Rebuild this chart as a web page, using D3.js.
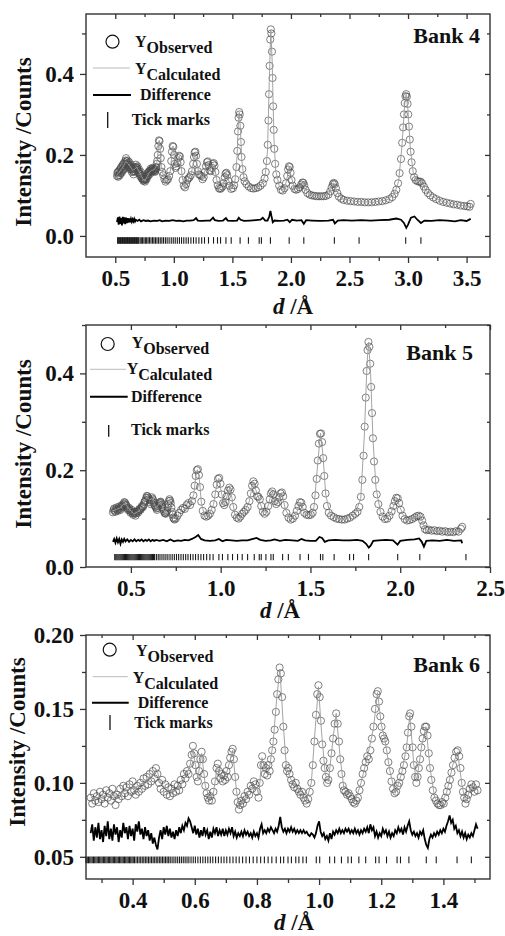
<!DOCTYPE html>
<html>
<head>
<meta charset="utf-8">
<script src="https://cdn.jsdelivr.net/npm/d3@7"></script>
<style>
body { margin: 0; background: #fff; }
svg text { font-family: "Liberation Serif", "Times New Roman", serif; font-weight: bold; fill: #111; }
</style>
</head>
<body>
<div id="chart"></div>
<script>
// ---------- Bank 4 ----------
var obs4 = [[0.515,0.148],[0.522,0.158],[0.529,0.150],[0.536,0.163],[0.543,0.155],[0.550,0.170],[0.557,0.160],[0.564,0.176],[0.571,0.165],[0.578,0.182],
[0.585,0.172],[0.592,0.192],[0.599,0.178],[0.606,0.186],[0.613,0.170],[0.620,0.182],[0.627,0.165],[0.634,0.176],[0.641,0.158],[0.648,0.170],
[0.655,0.152],[0.662,0.168],[0.669,0.160],[0.676,0.176],[0.683,0.165],[0.690,0.172],[0.697,0.156],[0.704,0.164],[0.711,0.148],[0.718,0.158],
[0.725,0.142],[0.732,0.150],[0.739,0.136],[0.746,0.142],[0.753,0.134],[0.760,0.145],[0.767,0.140],[0.774,0.155],[0.781,0.148],[0.788,0.160],
[0.795,0.153],[0.802,0.166],[0.809,0.158],[0.816,0.168],[0.823,0.160],[0.830,0.166],[0.837,0.158],[0.844,0.164],[0.851,0.170],[0.858,0.185],
[0.863,0.200],[0.868,0.222],[0.873,0.236],[0.878,0.234],[0.883,0.215],[0.888,0.192],[0.894,0.170],[0.900,0.158],[0.910,0.150],[0.920,0.140],
[0.930,0.134],[0.940,0.138],[0.950,0.140],[0.960,0.148],[0.970,0.160],[0.978,0.185],[0.984,0.208],[0.990,0.222],[0.996,0.220],[1.002,0.200],
[1.008,0.178],[1.015,0.168],[1.022,0.172],[1.030,0.180],[1.038,0.192],[1.045,0.198],[1.052,0.196],[1.058,0.182],[1.065,0.160],[1.075,0.138],
[1.085,0.124],[1.095,0.120],[1.105,0.128],[1.115,0.138],[1.125,0.142],[1.135,0.145],[1.145,0.150],[1.155,0.160],[1.165,0.178],[1.172,0.195],
[1.178,0.206],[1.184,0.208],[1.190,0.198],[1.197,0.178],[1.205,0.160],[1.215,0.152],[1.225,0.150],[1.235,0.148],[1.245,0.140],[1.255,0.145],
[1.265,0.158],[1.275,0.172],[1.283,0.182],[1.290,0.184],[1.297,0.175],[1.305,0.162],[1.315,0.160],[1.325,0.168],[1.333,0.178],[1.340,0.180],
[1.347,0.174],[1.355,0.158],[1.365,0.138],[1.375,0.125],[1.385,0.118],[1.395,0.116],[1.405,0.118],[1.415,0.122],[1.425,0.130],[1.435,0.145],
[1.442,0.154],[1.449,0.156],[1.456,0.150],[1.465,0.136],[1.475,0.124],[1.490,0.116],[1.505,0.118],[1.515,0.125],[1.525,0.140],[1.535,0.170],
[1.542,0.210],[1.548,0.258],[1.553,0.292],[1.558,0.306],[1.563,0.300],[1.568,0.272],[1.573,0.232],[1.578,0.195],[1.585,0.165],[1.595,0.145],
[1.605,0.135],[1.620,0.128],[1.640,0.122],[1.660,0.118],[1.680,0.117],[1.700,0.118],[1.720,0.120],[1.740,0.124],[1.760,0.130],[1.775,0.142],
[1.785,0.158],[1.795,0.185],[1.802,0.225],[1.808,0.285],[1.813,0.350],[1.818,0.420],[1.823,0.485],[1.828,0.510],[1.833,0.500],[1.838,0.455],
[1.843,0.390],[1.848,0.320],[1.853,0.262],[1.858,0.215],[1.865,0.178],[1.875,0.152],[1.885,0.138],[1.900,0.124],[1.915,0.114],[1.930,0.112],
[1.945,0.118],[1.958,0.130],[1.968,0.148],[1.976,0.164],[1.983,0.172],[1.990,0.170],[1.997,0.156],[2.005,0.138],[2.015,0.124],[2.030,0.116],
[2.045,0.114],[2.060,0.116],[2.075,0.120],[2.088,0.127],[2.098,0.132],[2.106,0.131],[2.114,0.125],[2.125,0.114],[2.140,0.106],[2.160,0.102],
[2.180,0.100],[2.200,0.099],[2.220,0.098],[2.240,0.098],[2.260,0.098],[2.280,0.098],[2.300,0.099],[2.320,0.102],[2.335,0.110],[2.348,0.120],
[2.358,0.128],[2.366,0.131],[2.374,0.128],[2.384,0.118],[2.396,0.106],[2.410,0.097],[2.430,0.092],[2.450,0.089],[2.480,0.087],[2.510,0.086],
[2.540,0.085],[2.570,0.084],[2.600,0.084],[2.630,0.083],[2.660,0.083],[2.690,0.083],[2.720,0.084],[2.750,0.085],[2.780,0.086],[2.810,0.088],
[2.840,0.091],[2.865,0.096],[2.885,0.104],[2.900,0.114],[2.915,0.130],[2.928,0.155],[2.940,0.190],[2.950,0.230],[2.958,0.268],[2.965,0.300],
[2.972,0.328],[2.978,0.345],[2.984,0.350],[2.990,0.344],[2.996,0.326],[3.002,0.300],[3.008,0.270],[3.015,0.238],[3.022,0.208],[3.030,0.182],
[3.040,0.160],[3.052,0.145],[3.065,0.138],[3.080,0.135],[3.095,0.134],[3.108,0.134],[3.120,0.130],[3.135,0.122],[3.150,0.114],[3.170,0.106],
[3.190,0.100],[3.215,0.095],[3.240,0.091],[3.270,0.087],[3.300,0.084],[3.330,0.082],[3.360,0.080],[3.390,0.078],[3.420,0.077],[3.450,0.075],
[3.480,0.074],[3.505,0.073],[3.525,0.072],[3.535,0.079],
[0.5185,0.156],[0.5255,0.146],[0.5325,0.160],[0.5395,0.150],[0.5465,0.166],[0.5535,0.156],[0.5605,0.172],[0.5675,0.162],[0.5745,0.178],[0.5815,0.168],
[0.5885,0.186],[0.5955,0.184],[0.6025,0.174],[0.6095,0.180],[0.6165,0.176],[0.6235,0.170],[0.6305,0.172],[0.6375,0.164],[0.6445,0.166],[0.6515,0.160],
[0.6585,0.158],[0.6655,0.164],[0.6725,0.170],[0.6795,0.170],[0.6865,0.168],[0.6935,0.162],[0.7005,0.158],[0.7075,0.154],[0.7145,0.152],[0.7215,0.148],
[0.7285,0.144],[0.7355,0.140],[0.7425,0.138],[0.7495,0.140],[0.7565,0.138],[0.7635,0.142],[0.7705,0.148],[0.7775,0.150],[0.7845,0.156],[0.7915,0.158],
[0.7985,0.160],[0.8055,0.162],[0.8125,0.164],[0.8195,0.166],[0.8265,0.162],[0.8335,0.162],[0.8405,0.160],[0.8475,0.168],[0.8545,0.178]];

var calc4 = [[0.515,0.152],[0.53,0.156],[0.55,0.164],[0.57,0.172],[0.59,0.184],[0.61,0.178],[0.63,0.170],[0.65,0.162],[0.67,0.166],[0.685,0.170],
[0.70,0.160],[0.72,0.150],[0.74,0.138],[0.755,0.136],[0.77,0.146],[0.79,0.156],[0.81,0.162],[0.83,0.163],[0.85,0.172],[0.862,0.198],
[0.870,0.228],[0.876,0.236],[0.884,0.212],[0.894,0.172],[0.91,0.150],[0.93,0.136],[0.95,0.140],[0.97,0.160],[0.985,0.208],[0.993,0.222],
[1.003,0.198],[1.015,0.170],[1.03,0.180],[1.045,0.197],[1.058,0.182],[1.075,0.140],[1.095,0.121],[1.12,0.138],[1.15,0.154],[1.17,0.188],
[1.182,0.207],[1.195,0.184],[1.215,0.153],[1.245,0.142],[1.275,0.170],[1.29,0.183],[1.31,0.161],[1.335,0.178],[1.345,0.176],[1.365,0.140],
[1.39,0.117],[1.42,0.126],[1.445,0.155],[1.46,0.145],[1.49,0.117],[1.52,0.130],[1.54,0.195],[1.552,0.288],[1.56,0.305],[1.57,0.255],
[1.58,0.188],[1.60,0.140],[1.65,0.120],[1.70,0.118],[1.75,0.127],[1.78,0.150],[1.80,0.210],[1.815,0.380],[1.828,0.508],[1.84,0.430],
[1.855,0.240],[1.87,0.162],[1.90,0.124],[1.93,0.113],[1.96,0.133],[1.985,0.171],[2.00,0.150],[2.03,0.117],[2.06,0.116],[2.09,0.128],
[2.105,0.131],[2.125,0.114],[2.16,0.102],[2.25,0.098],[2.32,0.102],[2.35,0.121],[2.367,0.131],[2.39,0.111],[2.43,0.092],[2.55,0.085],
[2.70,0.083],[2.82,0.089],[2.88,0.102],[2.92,0.135],[2.95,0.228],[2.97,0.322],[2.984,0.350],[3.00,0.310],[3.02,0.215],[3.045,0.155],
[3.08,0.136],[3.115,0.133],[3.15,0.114],[3.20,0.098],[3.30,0.084],[3.40,0.078],[3.535,0.072]];

var diff4 = [[0.515,0.034],[0.522,0.046],[0.529,0.028],[0.536,0.048],[0.543,0.030],[0.550,0.044],[0.557,0.026],[0.564,0.047],[0.571,0.031],[0.578,0.046],
[0.585,0.029],[0.592,0.045],[0.599,0.032],[0.606,0.044],[0.613,0.033],[0.620,0.043],[0.627,0.034],[0.634,0.042],[0.641,0.035],[0.648,0.041],
[0.655,0.036],[0.662,0.042],[0.669,0.036],[0.676,0.040],[0.690,0.037],[0.705,0.040],[0.72,0.036],[0.74,0.039],[0.76,0.037],[0.78,0.038],
[0.80,0.036],[0.83,0.038],[0.86,0.037],[0.88,0.039],[0.90,0.036],[0.93,0.038],[0.96,0.037],[0.99,0.039],[1.02,0.037],[1.05,0.038],
[1.08,0.036],[1.11,0.038],[1.14,0.038],[1.17,0.039],[1.19,0.044],[1.205,0.038],[1.24,0.037],[1.28,0.038],[1.31,0.038],[1.335,0.045],
[1.35,0.039],[1.38,0.037],[1.42,0.038],[1.445,0.044],[1.46,0.038],[1.50,0.037],[1.54,0.038],[1.555,0.045],[1.57,0.040],[1.60,0.037],
[1.65,0.038],[1.70,0.039],[1.74,0.040],[1.76,0.045],[1.78,0.038],[1.80,0.038],[1.815,0.048],[1.825,0.062],[1.833,0.050],[1.845,0.034],
[1.86,0.038],[1.90,0.037],[1.94,0.038],[1.97,0.040],[1.99,0.034],[2.01,0.040],[2.05,0.038],[2.09,0.039],[2.11,0.030],[2.13,0.039],
[2.18,0.038],[2.25,0.037],[2.32,0.038],[2.36,0.040],[2.375,0.031],[2.40,0.038],[2.45,0.039],[2.52,0.038],[2.60,0.039],[2.68,0.038],
[2.76,0.039],[2.84,0.040],[2.90,0.043],[2.94,0.040],[2.965,0.032],[2.985,0.020],[3.00,0.028],[3.025,0.045],[3.055,0.048],[3.08,0.040],
[3.11,0.032],[3.14,0.038],[3.20,0.037],[3.27,0.039],[3.34,0.038],[3.40,0.036],[3.45,0.039],[3.50,0.037],[3.535,0.042]];

var refl4 = [0.520,0.526,0.532,0.538,0.544,0.550,0.556,0.562,0.568,0.574,0.580,0.586,0.592,0.598,0.604,0.610,0.616,0.622,0.628,0.634,
0.640,0.646,0.652,0.658,0.664,0.670,0.676,0.682,0.688,0.694,0.700,0.712,0.722,0.733,0.745,0.757,0.768,0.780,0.792,0.805,
0.818,0.830,0.843,0.856,0.870,0.884,0.898,0.912,0.928,0.943,0.960,0.978,0.995,1.012,1.030,1.048,1.066,1.085,1.105,1.124,
1.146,1.168,1.190,1.214,1.238,1.262,1.296,1.339,1.373,1.399,1.445,1.490,1.566,1.637,1.729,1.748,1.825,1.985,2.110,2.371,
2.582,2.980,3.110];

// ---------- Bank 5 ----------
var obs5 = [[0.400,0.113],[0.407,0.121],[0.414,0.114],[0.421,0.123],[0.428,0.116],[0.435,0.125],[0.442,0.118],[0.449,0.128],[0.456,0.124],[0.463,0.134],
[0.470,0.130],[0.477,0.126],[0.484,0.118],[0.491,0.122],[0.498,0.112],[0.505,0.118],[0.512,0.108],[0.519,0.114],[0.526,0.106],[0.533,0.115],
[0.540,0.112],[0.547,0.120],[0.554,0.118],[0.561,0.126],[0.568,0.124],[0.575,0.134],[0.582,0.138],[0.589,0.147],[0.596,0.143],[0.603,0.138],
[0.610,0.130],[0.617,0.144],[0.624,0.138],[0.631,0.128],[0.638,0.124],[0.645,0.118],[0.652,0.126],[0.659,0.132],[0.666,0.135],[0.673,0.128],
[0.680,0.120],[0.687,0.112],[0.694,0.110],[0.701,0.116],[0.708,0.130],[0.715,0.140],[0.722,0.132],[0.729,0.114],[0.736,0.102],[0.743,0.098],
[0.750,0.100],[0.760,0.106],[0.770,0.112],[0.780,0.118],[0.790,0.122],[0.800,0.120],[0.810,0.128],[0.820,0.132],[0.830,0.128],[0.840,0.136],
[0.848,0.148],[0.855,0.168],[0.861,0.188],[0.867,0.200],[0.873,0.202],[0.879,0.190],[0.885,0.165],[0.892,0.135],[0.900,0.116],[0.910,0.106],
[0.920,0.104],[0.930,0.106],[0.940,0.110],[0.950,0.118],[0.960,0.130],[0.970,0.150],[0.978,0.170],[0.985,0.182],[0.992,0.184],[0.999,0.172],
[1.006,0.150],[1.013,0.132],[1.020,0.128],[1.027,0.134],[1.034,0.146],[1.041,0.158],[1.048,0.164],[1.055,0.160],[1.062,0.144],[1.070,0.124],
[1.080,0.108],[1.090,0.102],[1.100,0.100],[1.110,0.104],[1.120,0.110],[1.130,0.114],[1.140,0.118],[1.150,0.124],[1.160,0.136],[1.168,0.152],
[1.175,0.168],[1.182,0.177],[1.189,0.172],[1.196,0.158],[1.203,0.146],[1.210,0.145],[1.218,0.140],[1.226,0.126],[1.235,0.114],[1.245,0.110],
[1.255,0.114],[1.265,0.126],[1.273,0.140],[1.280,0.152],[1.287,0.156],[1.294,0.150],[1.302,0.136],[1.310,0.130],[1.318,0.134],[1.326,0.144],
[1.334,0.152],[1.341,0.154],[1.348,0.146],[1.356,0.128],[1.366,0.112],[1.378,0.102],[1.390,0.098],[1.402,0.100],[1.414,0.106],[1.424,0.116],
[1.433,0.126],[1.441,0.134],[1.449,0.133],[1.457,0.124],[1.466,0.112],[1.478,0.108],[1.490,0.107],[1.502,0.108],[1.512,0.112],[1.520,0.124],
[1.528,0.148],[1.535,0.182],[1.541,0.220],[1.547,0.255],[1.553,0.275],[1.559,0.276],[1.565,0.258],[1.571,0.225],[1.577,0.188],[1.584,0.152],
[1.592,0.126],[1.602,0.112],[1.615,0.106],[1.630,0.103],[1.645,0.100],[1.660,0.099],[1.675,0.098],[1.690,0.098],[1.705,0.100],[1.720,0.102],
[1.735,0.106],[1.750,0.110],[1.762,0.114],[1.772,0.124],[1.781,0.145],[1.789,0.180],[1.796,0.230],[1.802,0.290],[1.808,0.350],[1.813,0.405],
[1.818,0.448],[1.823,0.465],[1.828,0.455],[1.833,0.420],[1.838,0.372],[1.843,0.318],[1.848,0.266],[1.854,0.218],[1.861,0.180],[1.869,0.150],
[1.878,0.130],[1.890,0.114],[1.902,0.104],[1.915,0.099],[1.928,0.100],[1.940,0.106],[1.952,0.115],[1.962,0.126],[1.970,0.136],[1.978,0.143],
[1.986,0.142],[1.994,0.132],[2.003,0.118],[2.013,0.106],[2.025,0.099],[2.038,0.096],[2.052,0.097],[2.066,0.099],[2.080,0.102],[2.092,0.105],
[2.103,0.106],[2.113,0.104],[2.122,0.096],[2.130,0.086],[2.138,0.078],[2.148,0.076],[2.160,0.077],[2.175,0.075],[2.190,0.076],[2.205,0.074],
[2.220,0.075],[2.235,0.073],[2.250,0.074],[2.265,0.072],[2.280,0.073],[2.295,0.072],[2.310,0.074],[2.325,0.073],[2.338,0.079],[2.345,0.083],
[0.4035,0.118],[0.4105,0.116],[0.4175,0.120],[0.4245,0.118],[0.4315,0.121],[0.4385,0.120],[0.4455,0.124],[0.4525,0.126],[0.4595,0.130],[0.4665,0.133],
[0.4735,0.128],[0.4805,0.121],[0.4875,0.120],[0.4945,0.116],[0.5015,0.115],[0.5085,0.112],[0.5155,0.111],[0.5225,0.110],[0.5295,0.111],[0.5365,0.114],
[0.5435,0.116],[0.5505,0.119],[0.5575,0.122],[0.5645,0.125],[0.5715,0.129],[0.5785,0.136],[0.5855,0.143],[0.5925,0.146],[0.5995,0.140],[0.6065,0.134],
[0.6135,0.137],[0.6205,0.141],[0.6275,0.133],[0.6345,0.126],[0.6415,0.121],[0.6485,0.122],[0.6555,0.129],[0.6625,0.134],[0.6695,0.132],[0.6765,0.124],
[0.6835,0.116],[0.6905,0.111],[0.6975,0.113],[0.7045,0.123],[0.7115,0.136],[0.7185,0.137],[0.7255,0.123],[0.7325,0.108],[0.7395,0.100]];

var calc5 = [[0.40,0.116],[0.42,0.119],[0.44,0.122],[0.465,0.132],[0.49,0.120],[0.515,0.110],[0.54,0.114],[0.565,0.124],[0.59,0.145],[0.605,0.138],
[0.617,0.142],[0.64,0.122],[0.665,0.134],[0.69,0.111],[0.715,0.139],[0.74,0.099],[0.77,0.111],[0.80,0.121],[0.83,0.129],[0.85,0.150],
[0.862,0.188],[0.87,0.201],[0.88,0.188],[0.892,0.134],[0.91,0.106],[0.93,0.105],[0.96,0.129],[0.978,0.170],[0.99,0.183],[1.005,0.152],
[1.02,0.128],[1.035,0.146],[1.05,0.163],[1.062,0.144],[1.08,0.108],[1.10,0.100],[1.13,0.113],[1.16,0.136],[1.18,0.176],[1.195,0.160],
[1.21,0.145],[1.235,0.114],[1.255,0.114],[1.275,0.142],[1.288,0.155],[1.31,0.130],[1.34,0.153],[1.36,0.120],[1.39,0.098],[1.42,0.110],
[1.445,0.134],[1.47,0.110],[1.50,0.107],[1.52,0.124],[1.54,0.212],[1.556,0.276],[1.57,0.230],[1.585,0.150],[1.61,0.107],[1.68,0.098],
[1.75,0.110],[1.78,0.142],[1.80,0.270],[1.815,0.420],[1.824,0.464],[1.835,0.400],[1.848,0.266],[1.865,0.164],[1.89,0.114],[1.92,0.099],
[1.95,0.113],[1.98,0.143],[2.00,0.122],[2.03,0.097],[2.07,0.100],[2.105,0.106],[2.125,0.093],[2.14,0.077],[2.20,0.075],[2.28,0.073],
[2.345,0.075]];

var diff5 = [[0.40,0.052],[0.407,0.058],[0.414,0.050],[0.421,0.059],[0.428,0.051],[0.435,0.058],[0.442,0.048],[0.449,0.057],[0.456,0.052],[0.463,0.058],
[0.47,0.053],[0.48,0.057],[0.49,0.052],[0.50,0.056],[0.51,0.053],[0.52,0.057],[0.53,0.053],[0.54,0.056],[0.55,0.054],[0.56,0.057],
[0.57,0.053],[0.58,0.056],[0.59,0.054],[0.60,0.057],[0.61,0.053],[0.62,0.056],[0.63,0.054],[0.64,0.056],[0.66,0.054],[0.68,0.056],
[0.70,0.053],[0.72,0.057],[0.74,0.053],[0.76,0.055],[0.78,0.054],[0.80,0.056],[0.82,0.055],[0.84,0.058],[0.86,0.062],[0.875,0.066],
[0.89,0.058],[0.91,0.055],[0.94,0.054],[0.97,0.055],[0.99,0.058],[1.01,0.053],[1.03,0.056],[1.06,0.055],[1.09,0.054],[1.12,0.055],
[1.15,0.055],[1.18,0.058],[1.20,0.060],[1.22,0.056],[1.25,0.054],[1.28,0.055],[1.30,0.057],[1.33,0.054],[1.36,0.056],[1.40,0.055],
[1.43,0.054],[1.45,0.058],[1.47,0.055],[1.50,0.054],[1.53,0.054],[1.55,0.062],[1.565,0.060],[1.58,0.052],[1.60,0.055],[1.64,0.056],
[1.68,0.055],[1.72,0.055],[1.76,0.056],[1.79,0.054],[1.81,0.048],[1.825,0.040],[1.835,0.044],[1.85,0.054],[1.88,0.055],[1.92,0.056],
[1.96,0.055],[1.985,0.046],[2.00,0.054],[2.04,0.056],[2.08,0.057],[2.105,0.059],[2.12,0.052],[2.132,0.042],[2.145,0.054],[2.18,0.055],
[2.22,0.054],[2.26,0.056],[2.30,0.054],[2.34,0.055],[2.345,0.049]];

var refl5 = [0.410,0.416,0.422,0.428,0.434,0.440,0.446,0.452,0.458,0.464,0.470,0.476,0.482,0.488,0.494,0.500,0.506,0.512,0.518,0.524,
0.530,0.536,0.542,0.548,0.554,0.560,0.566,0.572,0.578,0.584,0.590,0.596,0.602,0.608,0.614,0.620,0.626,0.632,0.642,0.652,
0.662,0.673,0.684,0.695,0.706,0.718,0.730,0.742,0.754,0.766,0.779,0.792,0.805,0.818,0.832,0.846,0.860,0.875,0.890,0.905,
0.922,0.940,0.958,0.990,1.010,1.040,1.066,1.094,1.120,1.150,1.187,1.215,1.226,1.252,1.280,1.293,1.345,1.377,1.442,1.489,
1.556,1.569,1.632,1.718,1.740,1.824,1.986,2.109,2.366];

// ---------- Bank 6 ----------
var obs6 = [[0.265,0.090],[0.270,0.086],[0.275,0.093],[0.280,0.088],[0.285,0.091],[0.290,0.087],[0.295,0.094],[0.300,0.089],[0.305,0.092],[0.310,0.086],
[0.315,0.095],[0.320,0.090],[0.325,0.093],[0.330,0.088],[0.335,0.096],[0.340,0.091],[0.345,0.085],[0.350,0.092],[0.355,0.089],[0.360,0.096],
[0.365,0.091],[0.370,0.098],[0.375,0.093],[0.380,0.097],[0.385,0.091],[0.390,0.099],[0.395,0.094],[0.400,0.101],[0.405,0.095],[0.410,0.092],
[0.415,0.098],[0.420,0.094],[0.425,0.100],[0.430,0.096],[0.435,0.103],[0.440,0.098],[0.445,0.104],[0.450,0.099],[0.455,0.106],[0.460,0.101],
[0.465,0.108],[0.470,0.103],[0.475,0.110],[0.480,0.106],[0.485,0.100],[0.490,0.096],[0.495,0.102],[0.500,0.094],[0.505,0.099],[0.510,0.092],
[0.515,0.097],[0.520,0.091],[0.525,0.096],[0.530,0.093],[0.535,0.099],[0.540,0.094],[0.545,0.098],[0.550,0.095],[0.555,0.102],[0.560,0.099],
[0.565,0.106],[0.570,0.103],[0.575,0.108],[0.580,0.106],[0.585,0.113],[0.590,0.119],[0.594,0.125],[0.598,0.120],[0.602,0.112],[0.606,0.104],
[0.610,0.101],[0.614,0.108],[0.618,0.116],[0.622,0.121],[0.626,0.116],[0.630,0.106],[0.634,0.098],[0.638,0.093],[0.642,0.090],[0.646,0.088],
[0.650,0.091],[0.655,0.088],[0.660,0.094],[0.665,0.101],[0.670,0.110],[0.674,0.113],[0.678,0.108],[0.682,0.103],[0.686,0.106],[0.690,0.101],
[0.694,0.105],[0.698,0.102],[0.702,0.108],[0.706,0.104],[0.710,0.112],[0.714,0.117],[0.718,0.121],[0.722,0.123],[0.726,0.116],[0.730,0.104],
[0.734,0.094],[0.738,0.087],[0.742,0.082],[0.746,0.085],[0.750,0.088],[0.755,0.086],[0.760,0.091],[0.765,0.089],[0.770,0.094],[0.775,0.092],
[0.780,0.098],[0.785,0.096],[0.790,0.101],[0.795,0.099],[0.800,0.094],[0.805,0.090],[0.809,0.100],[0.813,0.112],[0.817,0.118],[0.821,0.112],
[0.825,0.106],[0.829,0.110],[0.833,0.105],[0.837,0.112],[0.841,0.108],[0.845,0.116],[0.849,0.122],[0.853,0.128],[0.857,0.136],[0.861,0.148],
[0.865,0.160],[0.869,0.170],[0.873,0.178],[0.877,0.174],[0.881,0.158],[0.885,0.138],[0.889,0.122],[0.893,0.112],[0.897,0.108],[0.901,0.110],
[0.905,0.106],[0.910,0.102],[0.915,0.099],[0.920,0.097],[0.925,0.100],[0.930,0.096],[0.935,0.094],[0.940,0.092],[0.945,0.094],[0.950,0.090],
[0.955,0.088],[0.960,0.086],[0.965,0.089],[0.970,0.094],[0.975,0.100],[0.980,0.112],[0.985,0.128],[0.990,0.146],[0.994,0.160],[0.998,0.166],
[1.002,0.158],[1.006,0.142],[1.010,0.126],[1.014,0.115],[1.018,0.110],[1.022,0.104],[1.026,0.100],[1.030,0.102],[1.035,0.110],[1.040,0.120],
[1.045,0.130],[1.050,0.140],[1.055,0.147],[1.060,0.140],[1.064,0.128],[1.068,0.116],[1.072,0.106],[1.076,0.098],[1.080,0.095],[1.085,0.094],
[1.090,0.092],[1.095,0.093],[1.100,0.091],[1.105,0.089],[1.110,0.087],[1.115,0.086],[1.120,0.088],[1.125,0.090],[1.130,0.095],[1.135,0.100],
[1.140,0.106],[1.145,0.110],[1.150,0.114],[1.155,0.118],[1.160,0.116],[1.165,0.122],[1.170,0.130],[1.175,0.138],[1.180,0.150],[1.185,0.160],
[1.189,0.162],[1.193,0.155],[1.197,0.145],[1.201,0.138],[1.205,0.132],[1.209,0.130],[1.213,0.128],[1.218,0.122],[1.223,0.114],[1.228,0.108],
[1.233,0.101],[1.238,0.096],[1.243,0.093],[1.248,0.094],[1.253,0.098],[1.258,0.100],[1.263,0.104],[1.268,0.108],[1.273,0.112],[1.278,0.118],
[1.282,0.124],[1.286,0.134],[1.290,0.145],[1.293,0.147],[1.297,0.138],[1.301,0.124],[1.305,0.112],[1.309,0.104],[1.313,0.100],[1.317,0.104],
[1.321,0.110],[1.325,0.116],[1.329,0.124],[1.333,0.130],[1.337,0.135],[1.341,0.138],[1.345,0.138],[1.349,0.132],[1.353,0.120],[1.357,0.110],
[1.361,0.102],[1.366,0.095],[1.371,0.090],[1.376,0.088],[1.381,0.086],[1.386,0.085],[1.391,0.085],[1.396,0.087],[1.401,0.086],[1.406,0.090],
[1.411,0.094],[1.416,0.098],[1.421,0.102],[1.426,0.107],[1.431,0.112],[1.436,0.117],[1.441,0.121],[1.446,0.122],[1.451,0.118],[1.455,0.110],
[1.459,0.100],[1.463,0.094],[1.467,0.090],[1.471,0.086],[1.475,0.089],[1.480,0.092],[1.485,0.096],[1.490,0.099],[1.495,0.097],[1.500,0.094],
[1.505,0.099],[1.510,0.095]];

var calc6 = [[0.265,0.090],[0.29,0.090],[0.32,0.091],[0.35,0.092],[0.38,0.095],[0.41,0.097],[0.44,0.101],[0.465,0.105],[0.478,0.109],[0.49,0.100],
[0.51,0.095],[0.53,0.094],[0.55,0.097],[0.57,0.104],[0.585,0.112],[0.594,0.123],[0.602,0.112],[0.61,0.103],[0.622,0.120],[0.634,0.098],
[0.648,0.089],[0.66,0.093],[0.672,0.111],[0.685,0.104],[0.70,0.105],[0.712,0.114],[0.722,0.122],[0.734,0.095],[0.743,0.083],[0.76,0.089],
[0.78,0.097],[0.80,0.096],[0.806,0.092],[0.816,0.117],[0.828,0.108],[0.84,0.110],[0.852,0.127],[0.864,0.158],[0.874,0.177],[0.884,0.142],
[0.895,0.110],[0.91,0.102],[0.93,0.096],[0.958,0.087],[0.975,0.100],[0.988,0.138],[0.998,0.165],[1.008,0.134],[1.02,0.106],[1.03,0.101],
[1.045,0.130],[1.055,0.147],[1.068,0.117],[1.08,0.096],[1.10,0.091],[1.115,0.087],[1.135,0.100],[1.155,0.117],[1.175,0.137],[1.188,0.161],
[1.20,0.140],[1.212,0.129],[1.228,0.108],[1.245,0.093],[1.265,0.106],[1.282,0.125],[1.292,0.146],[1.305,0.112],[1.314,0.101],[1.33,0.125],
[1.344,0.138],[1.357,0.110],[1.372,0.090],[1.39,0.085],[1.41,0.093],[1.43,0.112],[1.446,0.121],[1.46,0.098],[1.472,0.087],[1.49,0.098],
[1.51,0.096]];

var diff6 = [[0.265,0.066],[0.270,0.072],[0.275,0.061],[0.280,0.070],[0.285,0.063],[0.290,0.073],[0.295,0.062],[0.300,0.068],[0.305,0.060],[0.310,0.071],
[0.315,0.064],[0.320,0.074],[0.325,0.062],[0.330,0.069],[0.335,0.061],[0.340,0.072],[0.345,0.065],[0.350,0.070],[0.355,0.060],[0.360,0.068],
[0.365,0.063],[0.370,0.073],[0.375,0.066],[0.380,0.070],[0.385,0.062],[0.390,0.071],[0.395,0.064],[0.400,0.069],[0.405,0.061],[0.410,0.072],
[0.415,0.067],[0.420,0.074],[0.425,0.065],[0.430,0.069],[0.435,0.062],[0.440,0.070],[0.445,0.064],[0.450,0.068],[0.455,0.061],[0.460,0.066],
[0.465,0.059],[0.470,0.063],[0.475,0.058],[0.480,0.055],[0.485,0.063],[0.490,0.068],[0.495,0.062],[0.500,0.070],[0.505,0.065],[0.510,0.071],
[0.515,0.064],[0.520,0.069],[0.525,0.063],[0.530,0.067],[0.535,0.062],[0.540,0.068],[0.545,0.064],[0.550,0.070],[0.555,0.066],[0.560,0.071],
[0.565,0.068],[0.570,0.073],[0.575,0.071],[0.580,0.076],[0.585,0.074],[0.590,0.070],[0.595,0.066],[0.600,0.071],[0.605,0.065],[0.610,0.069],
[0.615,0.063],[0.620,0.068],[0.625,0.064],[0.630,0.070],[0.635,0.065],[0.640,0.068],[0.645,0.062],[0.650,0.067],[0.655,0.063],[0.660,0.069],
[0.665,0.066],[0.670,0.070],[0.675,0.064],[0.680,0.068],[0.685,0.065],[0.690,0.069],[0.695,0.064],[0.700,0.068],[0.705,0.065],[0.710,0.069],
[0.715,0.066],[0.720,0.070],[0.725,0.064],[0.730,0.067],[0.735,0.063],[0.740,0.066],[0.745,0.064],[0.750,0.067],[0.755,0.064],[0.760,0.068],
[0.765,0.065],[0.770,0.067],[0.775,0.064],[0.780,0.066],[0.785,0.063],[0.790,0.067],[0.795,0.064],[0.800,0.066],[0.805,0.063],[0.810,0.069],
[0.815,0.072],[0.820,0.066],[0.825,0.068],[0.830,0.066],[0.835,0.069],[0.840,0.067],[0.845,0.070],[0.850,0.068],[0.855,0.066],[0.860,0.069],
[0.865,0.067],[0.870,0.071],[0.875,0.077],[0.880,0.070],[0.885,0.067],[0.890,0.069],[0.895,0.066],[0.900,0.069],[0.905,0.067],[0.910,0.070],
[0.915,0.067],[0.920,0.069],[0.925,0.066],[0.930,0.068],[0.935,0.066],[0.940,0.068],[0.945,0.066],[0.950,0.068],[0.955,0.066],[0.960,0.067],
[0.965,0.065],[0.970,0.064],[0.975,0.066],[0.980,0.065],[0.985,0.063],[0.990,0.066],[0.995,0.071],[1.000,0.074],[1.005,0.067],[1.010,0.064],
[1.015,0.066],[1.020,0.062],[1.025,0.064],[1.030,0.061],[1.035,0.066],[1.040,0.062],[1.045,0.067],[1.050,0.065],[1.055,0.068],[1.060,0.066],
[1.065,0.069],[1.070,0.066],[1.075,0.068],[1.080,0.066],[1.085,0.069],[1.090,0.067],[1.095,0.069],[1.100,0.066],[1.105,0.068],[1.110,0.066],
[1.115,0.069],[1.120,0.066],[1.125,0.068],[1.130,0.065],[1.135,0.068],[1.140,0.066],[1.145,0.069],[1.150,0.067],[1.155,0.070],[1.160,0.066],
[1.165,0.072],[1.170,0.068],[1.175,0.070],[1.180,0.064],[1.185,0.067],[1.190,0.063],[1.195,0.066],[1.200,0.064],[1.205,0.069],[1.210,0.066],
[1.215,0.068],[1.220,0.064],[1.225,0.067],[1.230,0.063],[1.235,0.066],[1.240,0.064],[1.245,0.068],[1.250,0.066],[1.255,0.070],[1.260,0.067],
[1.265,0.069],[1.270,0.065],[1.275,0.070],[1.280,0.067],[1.285,0.071],[1.290,0.074],[1.295,0.068],[1.300,0.065],[1.305,0.067],[1.310,0.064],
[1.315,0.066],[1.320,0.063],[1.325,0.067],[1.330,0.065],[1.335,0.068],[1.340,0.062],[1.345,0.058],[1.350,0.056],[1.355,0.062],[1.360,0.065],
[1.365,0.063],[1.370,0.066],[1.375,0.064],[1.380,0.067],[1.385,0.065],[1.390,0.068],[1.395,0.066],[1.400,0.069],[1.405,0.067],[1.410,0.071],
[1.415,0.074],[1.420,0.078],[1.425,0.073],[1.430,0.075],[1.435,0.069],[1.440,0.071],[1.445,0.066],[1.450,0.068],[1.455,0.064],[1.460,0.067],
[1.465,0.063],[1.470,0.066],[1.475,0.062],[1.480,0.065],[1.485,0.063],[1.490,0.066],[1.495,0.064],[1.500,0.068],[1.505,0.072],[1.510,0.069]];

var refl6 = [0.250,0.254,0.258,0.262,0.266,0.270,0.274,0.278,0.282,0.286,0.290,0.294,0.298,0.302,0.306,0.310,0.314,0.318,0.322,0.326,
0.330,0.334,0.338,0.342,0.346,0.350,0.354,0.358,0.362,0.366,0.370,0.374,0.378,0.382,0.386,0.390,0.394,0.398,0.402,0.406,
0.411,0.416,0.421,0.426,0.431,0.436,0.441,0.446,0.451,0.456,0.461,0.466,0.471,0.476,0.481,0.486,0.491,0.496,0.501,0.506,
0.511,0.516,0.521,0.527,0.533,0.539,0.545,0.551,0.557,0.563,0.569,0.575,0.581,0.588,0.595,0.602,0.610,0.618,0.626,0.634,
0.642,0.650,0.658,0.667,0.676,0.685,0.694,0.703,0.713,0.723,0.733,0.743,0.754,0.765,0.776,0.788,0.800,0.812,0.824,0.836,
0.848,0.862,0.876,0.886,0.900,0.911,0.925,0.935,0.948,0.959,0.991,1.002,1.034,1.050,1.072,1.093,1.104,1.128,1.150,1.182,
1.193,1.217,1.251,1.262,1.289,1.345,1.377,1.444,1.490];

// axis ticks
var xMajor4 = [0.5, 1.0, 1.5, 2.0, 2.5, 3.0, 3.5], xMinor4 = [0.75, 1.25, 1.75, 2.25, 2.75, 3.25];
var yMajor4 = [0.0, 0.2, 0.4], yMinor4 = [0.1, 0.3, 0.5];
var xMajor5 = [0.5, 1.0, 1.5, 2.0, 2.5], xMinor5 = [0.75, 1.25, 1.75, 2.25];
var yMajor5 = [0.0, 0.2, 0.4], yMinor5 = [0.1, 0.3, 0.5];
var xMajor6 = [0.4, 0.6, 0.8, 1.0, 1.2, 1.4], xMinor6 = [0.3, 0.5, 0.7, 0.9, 1.1, 1.3, 1.5];
var yMajor6 = [0.05, 0.10, 0.15, 0.20], yMinor6 = [0.075, 0.125, 0.175];


Panel = function(_svg, _data, _opts){
    this.svgRoot = _svg;
    this.data = _data;
    this.opts = _opts;
    this.initVis();
};

Panel.prototype.initVis = function(){
    var vis = this;
    var o = vis.opts;

    vis.margin = { top: o.top, left: 86 };
    vis.width = 404;
    vis.height = o.height;

    vis.svg = vis.svgRoot.append("g")
        .attr("transform", "translate(" + vis.margin.left + "," + vis.margin.top + ")");

    vis.x = d3.scaleLinear().domain(o.xDomain).range([0, vis.width]);
    vis.y = d3.scaleLinear().domain(o.yDomain).range([vis.height, 0]);

    vis.drawAxes();
    vis.updateVis();
    vis.drawLegend();
};

Panel.prototype.drawAxes = function(){
    var vis = this;
    var o = vis.opts;

    function style(g){
        g.select(".domain").remove();
        g.selectAll("line").attr("stroke", "#333").attr("stroke-width", 1.3);
        g.selectAll("text")
            .attr("font-family", "'Liberation Serif', serif")
            .attr("font-weight", "bold")
            .attr("font-size", "23px")
            .attr("fill", "#111");
    }

    // bottom
    vis.svg.append("g").attr("class", "x-axis")
        .attr("transform", "translate(0," + vis.height + ")")
        .call(d3.axisBottom(vis.x).tickValues(o.xMajor).tickSize(6).tickPadding(7).tickFormat(d3.format(".1f")))
        .call(style);
    vis.svg.append("g")
        .attr("transform", "translate(0," + vis.height + ")")
        .call(d3.axisBottom(vis.x).tickValues(o.xMinor).tickSize(4).tickFormat(""))
        .call(style);
    // top (inward)
    vis.svg.append("g")
        .call(d3.axisTop(vis.x).tickValues(o.xMajor).tickSize(-5).tickFormat(""))
        .call(style);
    vis.svg.append("g")
        .call(d3.axisTop(vis.x).tickValues(o.xMinor).tickSize(-3).tickFormat(""))
        .call(style);
    // left
    vis.svg.append("g").attr("class", "y-axis")
        .call(d3.axisLeft(vis.y).tickValues(o.yMajor).tickSize(6).tickPadding(6).tickFormat(d3.format(o.yFormat)))
        .call(style);
    vis.svg.append("g")
        .call(d3.axisLeft(vis.y).tickValues(o.yMinor).tickSize(4).tickFormat(""))
        .call(style);
    // right (inward)
    vis.svg.append("g")
        .attr("transform", "translate(" + vis.width + ",0)")
        .call(d3.axisRight(vis.y).tickValues(o.yMajor).tickSize(-5).tickFormat(""))
        .call(style);
    vis.svg.append("g")
        .attr("transform", "translate(" + vis.width + ",0)")
        .call(d3.axisRight(vis.y).tickValues(o.yMinor).tickSize(-3).tickFormat(""))
        .call(style);

    vis.svg.append("rect")
        .attr("width", vis.width)
        .attr("height", vis.height)
        .attr("fill", "none")
        .attr("stroke", "#333")
        .attr("stroke-width", 1.4);

    // axis labels
    vis.svg.append("text")
        .attr("text-anchor", "middle")
        .attr("font-size", "23px")
        .attr("transform", "translate(" + o.yLabelX + "," + o.yLabelY + ")rotate(-90)")
        .text("Intensity /Counts");

    var xl = vis.svg.append("text")
        .attr("text-anchor", "middle")
        .attr("font-size", "23px")
        .attr("x", o.xLabelX)
        .attr("y", o.xLabelY);
    xl.append("tspan").attr("font-style", "italic").text("d");
    xl.append("tspan").text(" /Å");

    vis.svg.append("text")
        .attr("text-anchor", "end")
        .attr("font-size", "22px")
        .attr("x", o.bankX)
        .attr("y", o.bankY)
        .text(o.bank);
};

Panel.prototype.updateVis = function(){
    var vis = this;

    var line = d3.line()
        .x(function(d){ return vis.x(d[0]); })
        .y(function(d){ return vis.y(d[1]); });

    // reflection tick marks
    vis.svg.append("g").attr("class", "refl")
        .selectAll("line")
        .data(vis.data.refl)
        .enter().append("line")
        .attr("x1", function(d){ return vis.x(d); })
        .attr("x2", function(d){ return vis.x(d); })
        .attr("y1", vis.y(vis.opts.reflBand[0]))
        .attr("y2", vis.y(vis.opts.reflBand[1]))
        .attr("stroke", "#1a1a1a")
        .attr("stroke-width", 1.1);

    // difference
    vis.svg.append("path")
        .datum(vis.data.diff)
        .attr("d", line)
        .attr("fill", "none")
        .attr("stroke", "#000")
        .attr("stroke-width", 1.8);

    // observed
    vis.svg.append("g").attr("class", "obs")
        .selectAll("circle")
        .data(vis.data.obs)
        .enter().append("circle")
        .attr("cx", function(d){ return vis.x(d[0]); })
        .attr("cy", function(d){ return vis.y(d[1]); })
        .attr("r", 3.6)
        .attr("fill", "none")
        .attr("stroke", "#4a4a4a")
        .attr("stroke-width", 0.7);

    // calculated
    vis.svg.append("path")
        .datum(vis.data.calc)
        .attr("d", line)
        .attr("fill", "none")
        .attr("stroke", "#999")
        .attr("stroke-width", 0.9);
};

Panel.prototype.drawLegend = function(){
    var vis = this;
    var L = vis.opts.legend;
    var g = vis.svgRoot.append("g").attr("class", "legend");

    g.append("circle").attr("cx", L.circle[0]).attr("cy", L.circle[1]).attr("r", 6.5)
        .attr("fill", "none").attr("stroke", "#111").attr("stroke-width", 1.2);
    var t1 = g.append("text").attr("x", L.obsY[0]).attr("y", L.obsY[1]).attr("font-size", "16px");
    t1.append("tspan").text("Y");
    t1.append("tspan").attr("dy", 6).text("Observed");

    g.append("line").attr("x1", L.calcLine[0]).attr("x2", L.calcLine[1])
        .attr("y1", L.calcLine[2]).attr("y2", L.calcLine[2])
        .attr("stroke", "#bbb").attr("stroke-width", 1);
    var t2 = g.append("text").attr("x", L.calcY[0]).attr("y", L.calcY[1]).attr("font-size", "16px");
    t2.append("tspan").text("Y");
    t2.append("tspan").attr("dy", 6).text("Calculated");

    g.append("line").attr("x1", L.diffLine[0]).attr("x2", L.diffLine[1])
        .attr("y1", L.diffLine[2]).attr("y2", L.diffLine[2])
        .attr("stroke", "#000").attr("stroke-width", 2);
    g.append("text").attr("x", L.diffText[0]).attr("y", L.diffText[1]).attr("font-size", "16px").text("Difference");

    g.append("line").attr("x1", L.tick[0]).attr("x2", L.tick[0])
        .attr("y1", L.tick[1]).attr("y2", L.tick[2])
        .attr("stroke", "#111").attr("stroke-width", 1.3);
    g.append("text").attr("x", L.tickText[0]).attr("y", L.tickText[1]).attr("font-size", "16px").text("Tick marks");
};


var svg = d3.select("#chart").append("svg")
    .attr("width", 505)
    .attr("height", 936);

new Panel(svg, { obs: obs4, calc: calc4, diff: diff4, refl: refl4 }, {
    top: 14, height: 243,
    xDomain: [0.25, 3.7], yDomain: [-0.052, 0.548],
    xMajor: xMajor4, xMinor: xMinor4, yMajor: yMajor4, yMinor: yMinor4, yFormat: ".1f",
    reflBand: [-0.003, -0.019],
    yLabelX: -55, yLabelY: 128, xLabelX: 207, xLabelY: 300,
    bank: "Bank 4", bankX: 394, bankY: 29,
    legend: { circle: [112.5, 41.7], obsY: [135, 47], calcLine: [93, 130, 68], calcY: [135, 74],
              diffLine: [93, 131, 95], diffText: [140, 100], tick: [107.7, 112, 128], tickText: [131.7, 125] }
});

new Panel(svg, { obs: obs5, calc: calc5, diff: diff5, refl: refl5 }, {
    top: 325, height: 242,
    xDomain: [0.25, 2.5], yDomain: [0, 0.5],
    xMajor: xMajor5, xMinor: xMinor5, yMajor: yMajor5, yMinor: yMinor5, yFormat: ".1f",
    reflBand: [0.014, 0.027],
    yLabelX: -55, yLabelY: 119, xLabelX: 194, xLabelY: 293,
    bank: "Bank 5", bankX: 387, bankY: 35,
    legend: { circle: [107.7, 344], obsY: [131.7, 348], calcLine: [90, 126, 369.3], calcY: [126.7, 374],
              diffLine: [90, 127.7, 396.7], diffText: [131, 402], tick: [108.7, 425, 436.7], tickText: [131, 435] }
});

new Panel(svg, { obs: obs6, calc: calc6, diff: diff6, refl: refl6 }, {
    top: 635, height: 244,
    xDomain: [0.25, 1.55], yDomain: [0.035, 0.20],
    xMajor: xMajor6, xMinor: xMinor6, yMajor: yMajor6, yMinor: yMinor6, yFormat: ".2f",
    reflBand: [0.0456, 0.0502],
    yLabelX: -61, yLabelY: 107, xLabelX: 208, xLabelY: 295,
    bank: "Bank 6", bankX: 394, bankY: 37,
    legend: { circle: [109.7, 649.7], obsY: [136, 656], calcLine: [92.7, 127.7, 676.7], calcY: [132.7, 683],
              diffLine: [92, 128.7, 702.7], diffText: [137.7, 708], tick: [110, 715, 730], tickText: [134.3, 728] }
});
</script>
</body>
</html>
